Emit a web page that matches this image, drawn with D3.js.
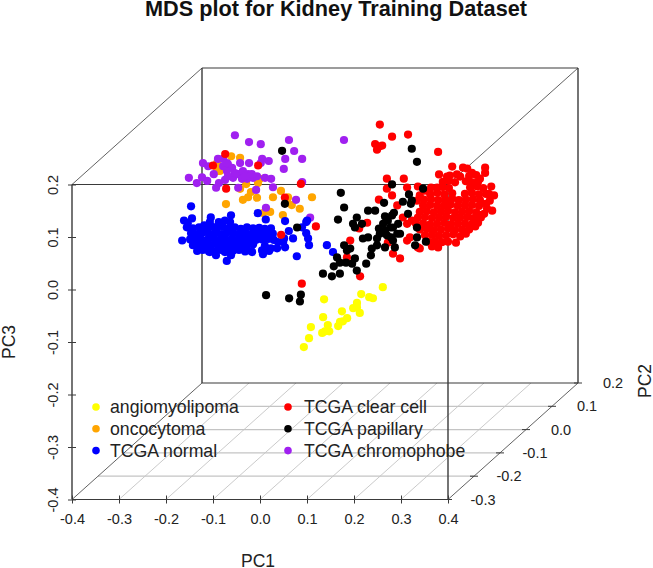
<!DOCTYPE html>
<html>
<head>
<meta charset="utf-8">
<style>
	body { margin: 0; background: #fff; }
	svg { display: block; }
	text { font-family: "Liberation Sans", Arial, sans-serif; fill: #222; }
</style>
</head>
<body>
<div id="container"></div>
<script src="https://cdn.jsdelivr.net/npm/d3@7"></script>
<script>
// ==============
//	DATA
// ==============

var ticksPC1 = [-0.4, -0.3, -0.2, -0.1, 0, 0.1, 0.2, 0.3, 0.4],
	labelsPC1 = ["-0.4", "-0.3", "-0.2", "-0.1", "0.0", "0.1", "0.2", "0.3", "0.4"],
	ticksPC2 = [-0.3, -0.2, -0.1, 0, 0.1, 0.2],
	labelsPC2 = ["-0.3", "-0.2", "-0.1", "0.0", "0.1", "0.2"],
	ticksPC3 = [-0.4, -0.3, -0.2, -0.1, 0, 0.1, 0.2],
	labelsPC3 = ["-0.4", "-0.3", "-0.2", "-0.1", "0.0", "0.1", "0.2"];

var classNames = ["angiomyolipoma", "oncocytoma", "TCGA normal", "TCGA clear cell", "TCGA papillary", "TCGA chromophobe"],
	classColours = ["#ffff00", "#ffa500", "#0000ff", "#ff0000", "#000000", "#a020f0"];

// PC2 can't be read per point from a flat picture, so one depth per class
var classPC2 = [-0.2, -0.1, -0.2, 0, 0, -0.1];

// [PC1, PC3]
var angiomyolipoma = [
	[.206,-.040],[.160,-.053],[.177,-.059],[.185,-.061],[.081,-.063],[.151,-.070],[.143,-.080],[.157,-.089],
	[.119,-.086],[.079,-.097],[.130,-.099],[.121,-.105],[.115,-.106],[.111,-.114],[.089,-.112],[.053,-.116],
	[.092,-.124],[.083,-.124],[.077,-.127],[.049,-.137],[.038,-.154],[.151,-.078]
];

var oncocytoma = [
	[-.202,.152],[-.196,.137],[-.192,.143],[-.202,.137],[-.172,.165],[-.153,.162],[-.111,.122],[-.115,.114],
	[-.140,.112],[-.153,.103],[-.183,.074],[-.147,.082],[-.136,.087],[-.130,.097],[-.117,.086],[-.083,.087],
	[-.066,.099],[-.051,.087],[-.053,.082],[-.043,.072],[-.026,.065],[.000,.087],[-.089,.059],[-.104,.057],
	[-.062,.053]
];

var normal = [
	[-.202,.114],[-.221,.049],[-.126,.010],[.023,.019],[.087,.040],[-.060,.101],[-.043,.089],[-.002,.086],
	[.045,.087],[.043,.084],[.034,.074],[.043,.063],[.047,.053],[.049,.040],[.015,.053],[.006,.067],
	[-.004,.053],[.100,.027],[-.217,.087],[-.209,.082],[-.200,.091],[-.211,.074],[-.198,.072],[-.160,.093],
	[-.117,.097],[-.130,.087],[-.143,.084],[-.162,.084],[-.174,.078],[-.119,.084],[-.153,.074],
	[-.185,.074],[-.172,.072],[-.160,.076],[-.147,.073],[-.134,.075],[-.121,.072],[-.109,.074],[-.096,.071],
	[-.083,.074],[-.070,.072],[-.057,.073],[-.045,.071],[-.032,.072],
	[-.202,.063],[-.189,.061],[-.177,.064],[-.164,.062],[-.151,.063],[-.138,.061],[-.126,.064],[-.113,.062],
	[-.100,.061],[-.087,.063],[-.074,.061],[-.062,.062],[-.049,.063],[-.036,.061],[-.028,.062],
	[-.204,.051],[-.192,.052],[-.179,.050],[-.166,.051],[-.153,.053],[-.140,.050],[-.128,.051],[-.115,.052],
	[-.102,.050],[-.089,.051],[-.077,.052],[-.064,.050],[-.051,.051],[-.038,.052],[-.026,.050],
	[-.198,.040],[-.185,.041],[-.172,.039],[-.160,.040],[-.147,.042],[-.134,.039],[-.121,.040],[-.109,.041],
	[-.096,.039],[-.083,.040],[-.070,.042],[-.045,.039],
	[-.189,.029],[-.177,.031],[-.164,.028],[-.151,.029],[-.138,.031],[-.126,.028],[-.113,.029],[-.100,.031],
	[-.087,.028],[-.074,.029],[-.051,.030],[-.036,.029],
	[-.149,.021],[-.117,.021],[-.072,.027],[-.049,.023],[-.032,.034],[-.019,.034],[-.002,.036],[-.017,.046],
	[-.006,.046],[-.130,.027],[-.162,.027]
];

var clearCell = [
	[.089,.181],[.115,.158],[.149,.162],[.079,.144],[.094,.141],[.083,.133],[.087,.139],[.213,.129],
	[.243,.101],[.266,.099],[.275,.097],[.313,.099],[.313,.089],[.215,.086],[.232,.082],[.104,.078],
	[.140,.078],[.326,.063],[.332,.046],[.328,.017],[.317,.021],[.311,.011],[.298,-.006],[.279,-.017],
	[.251,-.044],[.213,-.053],[.200,-.051],[.174,-.055],[.117,-.065],[.132,-.074],[.047,-.108],[.019,-.072],
	[.026,-.040],[.045,-.017],[.062,-.006],[.087,.038],[-.077,-.122],[-.047,-.013],[-.121,-.029],[-.079,.068],
	[-.240,.125],[-.266,.103],[-.170,.103],[-.238,.059],[-.113,.042],
	[.104,.059],[.115,.046],[.126,.027],[.147,.061],[.170,.063],[.138,.004],[.147,-.008],[.147,-.040],
	[.106,-.044],[.170,-.053],[.168,.036],[.157,-.002],[.153,-.034],
	[.238,.084],[.253,.086],[.279,.083],[.294,.085],
	[.223,.072],[.236,.074],[.249,.071],[.272,.073],[.285,.071],[.298,.072],
	[.211,.061],[.223,.062],[.236,.060],[.281,.061],[.296,.063],[.309,.060],
	[.196,.049],[.211,.051],[.226,.048],[.243,.050],[.270,.049],[.285,.051],[.300,.048],[.315,.049],
	[.183,.038],[.198,.039],[.213,.037],[.228,.038],[.243,.040],[.257,.037],[.272,.038],[.287,.039],[.302,.037],
	[.181,.027],[.196,.028],[.211,.026],[.226,.027],[.240,.029],[.255,.026],[.270,.027],[.285,.028],[.300,.026],
	[.174,.015],[.189,.016],[.204,.014],[.219,.015],[.234,.017],[.249,.014],[.264,.015],[.279,.016],[.294,.014],
	[.170,.004],[.185,.005],[.200,.003],[.215,.004],[.230,.006],[.245,.003],[.260,.004],[.275,.005],[.289,.003],
	[.166,-.008],[.181,-.007],[.196,-.009],[.211,-.008],[.226,-.006],[.240,-.009],[.255,-.008],[.270,-.007],
	[.174,-.019],[.189,-.018],[.204,-.020],[.219,-.019],[.234,-.017],[.249,-.020],[.264,-.019],
	[.185,-.030],[.200,-.029],[.215,-.031],[.230,-.030],[.245,-.028],
	[.192,-.042],[.206,-.041],[.221,-.043],[.234,-.042],
	[.304,.004],[.285,-.008],[.279,-.019],[.292,-.013],[.315,.030],[.306,.009],[.323,.036],[.260,-.032],
	[.272,-.027],[.185,.055],[.198,.061],[.174,.046],[.260,.082],[.285,.089],[.302,.078],[.321,.049]
];

var papillary = [
	[-.119,.131],[.157,.135],[.168,.110],[.115,.067],[.006,.051],[.013,.023],[.000,.000],[-.113,.030],
	[-.087,-.015],[-.153,-.144],[-.104,-.150],[-.079,-.143],[-.081,-.156],[-.032,-.103],[-.013,-.108],[.004,-.103],
	[-.009,-.089],[-.002,-.072],[.004,-.082],[.013,-.049],[.026,-.055],[.019,-.059],[.036,-.074],[.030,-.084],
	[.017,-.082],[.040,-.097],[.060,-.084],[.070,-.068],[.072,-.055],[.053,-.036],[.064,-.034],[.083,-.049],
	[.100,-.053],[.121,-.053],[.164,-.049],[.168,-.034],[.187,-.042],[.083,-.036],[.087,-.017],[.100,-.021],
	[.111,-.015],[.126,-.027],[.117,-.040],[.132,-.027],[.104,-.030],[.117,-.015],[.106,-.002],[.100,.006],
	[.115,.008],[.119,.013],[.149,.011],[.128,-.008],[.040,.004],[.032,-.008],[.051,-.008],[.036,-.015],
	[.064,.017],[.079,.017],[.098,.032],[.138,.034],[.151,.048],[.157,.036],[.155,.030],[.181,.059],
	[.168,-.015],[.096,-.008],[.089,-.027],[.113,-.034]
];

var chromophobe = [
	[-.164,.205],[-.134,.192],[-.109,.188],[-.049,.196],[-.038,.175],[-.021,.160],[-.057,.160],[-.060,.141],
	[-.092,.156],[-.106,.160],[-.109,.152],[-.134,.152],[-.153,.152],[-.200,.160],[-.232,.152],[-.221,.146],
	[-.189,.160],[-.179,.150],[-.170,.143],[-.181,.137],[-.209,.131],[-.234,.125],[-.262,.124],[-.245,.114],
	[-.223,.118],[-.204,.105],[-.198,.114],[-.185,.120],[-.168,.124],[-.157,.131],[-.147,.137],[-.136,.131],
	[-.126,.124],[-.149,.122],[-.164,.133],[-.138,.122],[-.117,.127],[-.100,.124],[-.087,.122],[-.083,.106],
	[-.119,.101],[-.157,.105],[-.021,.116],[-.034,.082],[-.098,.067],[-.004,.048],[.068,.196],[.234,.032],
	[-.206,.029],[-.189,.146],[-.179,.127],[-.143,.127],[-.128,.131],[-.181,.152]
];

// drawn in this order, later classes sit on top
var drawOrder = [
	{cls: 0, values: angiomyolipoma},
	{cls: 1, values: oncocytoma},
	{cls: 5, values: chromophobe},
	{cls: 2, values: normal},
	{cls: 3, values: clearCell},
	{cls: 4, values: papillary}
];

// ==============
//	OPTIONS
// ==============

var width = 653,
	height = 568,
	pointRadius = 4.1,
	tickHalf = 4,
	colFrame = "#3a3a3a",
	colGrid = "#c4c4c4";

// front face of the box
var x = d3.scaleLinear().domain([-0.4, 0.4]).range([72, 448]),
	z = d3.scaleLinear().domain([-0.4, 0.2]).range([499.5, 184.5]);

// PC2 pushes a point back along the diagonal of the box
var depthX = d3.scaleLinear().domain([-0.3, 0.2]).range([0, 130]),
	depthY = d3.scaleLinear().domain([-0.3, 0.2]).range([0, -116.5]);

function sx(pc1, pc2) { return x(pc1) + depthX(pc2); }
function sy(pc3, pc2) { return z(pc3) + depthY(pc2); }

// ==============
//	DRAW
// ==============

var svg = d3.select("#container").append("svg")
	.attr("width", width)
	.attr("height", height);

// === floor grid
var grid = svg.append("g")
	.attr("stroke", colGrid)
	.attr("stroke-width", 0.9)
	.attr("fill", "none");

grid.selectAll("line.along")
	.data(ticksPC1.slice(1, -1))
	.join("line")
	.attr("class", "along")
	.attr("x1", d => sx(d, -0.3))
	.attr("y1", sy(-0.4, -0.3))
	.attr("x2", d => sx(d, 0.2))
	.attr("y2", sy(-0.4, 0.2));

grid.selectAll("line.across")
	.data(ticksPC2.slice(1, -1))
	.join("line")
	.attr("class", "across")
	.attr("stroke-width", 1.2)
	.attr("x1", d => sx(-0.4, d))
	.attr("y1", d => sy(-0.4, d))
	.attr("x2", d => sx(0.4, d))
	.attr("y2", d => sy(-0.4, d));

// === box
var corners = [];
[-0.4, 0.4].forEach(function(a) {
	[-0.4, 0.2].forEach(function(c) {
		corners.push({x1: sx(a, -0.3), y1: sy(c, -0.3), x2: sx(a, 0.2), y2: sy(c, 0.2), w: 0.8});
	});
});
[-0.3, 0.2].forEach(function(b) {
	[-0.4, 0.2].forEach(function(c) {
		corners.push({x1: sx(-0.4, b), y1: sy(c, b), x2: sx(0.4, b), y2: sy(c, b), w: 1.2});
	});
	[-0.4, 0.4].forEach(function(a) {
		corners.push({x1: sx(a, b), y1: sy(-0.4, b), x2: sx(a, b), y2: sy(0.2, b), w: 1.4});
	});
});

svg.append("g")
	.attr("stroke", colFrame)
	.selectAll("line")
	.data(corners)
	.join("line")
	.attr("x1", d => d.x1)
	.attr("y1", d => d.y1)
	.attr("x2", d => d.x2)
	.attr("y2", d => d.y2)
	.attr("stroke-width", d => d.w);

// === axes
var axisPC1 = svg.append("g")
	.attr("transform", "translate(0," + z(-0.4) + ")")
	.call(d3.axisBottom(x)
		.tickValues(ticksPC1)
		.tickSize(tickHalf)
		.tickPadding(10)
		.tickFormat((d, i) => labelsPC1[i]));

axisPC1.selectAll("line").attr("y1", -tickHalf);

var axisPC3 = svg.append("g")
	.attr("transform", "translate(" + x(-0.4) + ",0)")
	.call(d3.axisLeft(z)
		.tickValues(ticksPC3)
		.tickSize(tickHalf)
		.tickFormat((d, i) => labelsPC3[i]));

axisPC3.selectAll("line").attr("x1", tickHalf);

axisPC3.selectAll("text")
	.attr("x", null)
	.attr("y", null)
	.attr("dy", null)
	.attr("text-anchor", "middle")
	.attr("transform", "translate(-14,0) rotate(-90)");

[axisPC1, axisPC3].forEach(function(a) {
	a.select(".domain").remove();
	a.selectAll("line").attr("stroke", colFrame);
	a.selectAll("text")
		.style("font-size", "14.5px")
		.style("font-family", '"Liberation Sans", Arial, sans-serif')
		.attr("fill", "#222");
});

// PC2 runs along the right diagonal, no d3 axis for that
var axisPC2 = svg.append("g");

axisPC2.selectAll("line")
	.data(ticksPC2)
	.join("line")
	.attr("x1", d => sx(0.4, d) - tickHalf)
	.attr("x2", d => sx(0.4, d) + tickHalf)
	.attr("y1", d => sy(-0.4, d))
	.attr("y2", d => sy(-0.4, d))
	.attr("stroke", colFrame);

axisPC2.selectAll("text")
	.data(ticksPC2)
	.join("text")
	.attr("x", d => sx(0.4, d) + 35)
	.attr("y", d => sy(-0.4, d))
	.attr("dy", "0.35em")
	.attr("text-anchor", "middle")
	.style("font-size", "14.5px")
	.text((d, i) => labelsPC2[i]);

// === points
drawOrder.forEach(function(group) {
	var pc2 = classPC2[group.cls];
	svg.append("g")
		.attr("fill", classColours[group.cls])
		.selectAll("circle")
		.data(group.values)
		.join("circle")
		.attr("cx", d => sx(d[0], pc2))
		.attr("cy", d => sy(d[1], pc2))
		.attr("r", pointRadius);
});

// === legend
var legend = svg.append("g")
	.selectAll("g")
	.data(classNames)
	.join("g")
	.attr("transform", (d, i) => "translate(" + (i < 3 ? 96 : 288) + "," + (407 + (i % 3) * 21.8) + ")");

legend.append("circle")
	.attr("r", 3.8)
	.attr("fill", (d, i) => classColours[i]);

legend.append("text")
	.attr("x", (d, i) => i < 3 ? 14 : 16)
	.attr("dy", "0.35em")
	.style("font-size", "17.7px")
	.text(d => d);

// === titles
svg.append("text")
	.attr("x", 336)
	.attr("y", 15.5)
	.attr("text-anchor", "middle")
	.style("font-size", "21.7px")
	.style("font-weight", "bold")
	.style("fill", "#111")
	.text("MDS plot for Kidney Training Dataset");

svg.append("text")
	.attr("x", 258)
	.attr("y", 566.5)
	.attr("text-anchor", "middle")
	.style("font-size", "17.5px")
	.text("PC1");

svg.append("text")
	.attr("transform", "translate(15,342) rotate(-90)")
	.attr("text-anchor", "middle")
	.style("font-size", "17.5px")
	.text("PC3");

svg.append("text")
	.attr("transform", "translate(651,381) rotate(-90)")
	.attr("text-anchor", "middle")
	.style("font-size", "17.5px")
	.text("PC2");
</script>
</body>
</html>
